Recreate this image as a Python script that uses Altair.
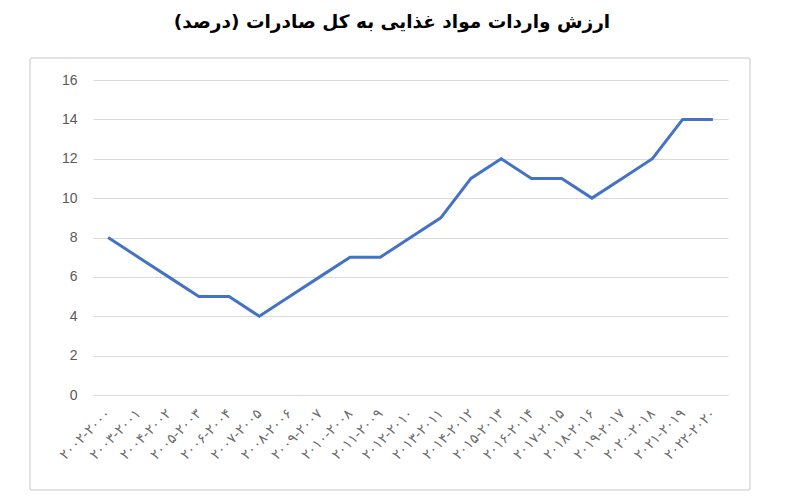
import altair as alt
import pandas as pd

periods = ["۲۰۰۲-۲۰۰۰", "۲۰۰۳-۲۰۰۱", "۲۰۰۴-۲۰۰۲", "۲۰۰۵-۲۰۰۳", "۲۰۰۶-۲۰۰۴",
           "۲۰۰۷-۲۰۰۵", "۲۰۰۸-۲۰۰۶", "۲۰۰۹-۲۰۰۷", "۲۰۱۰-۲۰۰۸", "۲۰۱۱-۲۰۰۹",
           "۲۰۱۲-۲۰۱۰", "۲۰۱۳-۲۰۱۱", "۲۰۱۴-۲۰۱۲", "۲۰۱۵-۲۰۱۳", "۲۰۱۶-۲۰۱۴",
           "۲۰۱۷-۲۰۱۵", "۲۰۱۸-۲۰۱۶", "۲۰۱۹-۲۰۱۷", "۲۰۲۰-۲۰۱۸", "۲۰۲۱-۲۰۱۹",
           "۲۰۲۲-۲۰۲۰"]
values = [8, 7, 6, 5, 5, 4, 5, 6, 7, 7, 8, 9, 11, 12, 11, 11, 10, 11, 12, 14, 14]
y_ticks = [0, 2, 4, 6, 8, 10, 12, 14, 16]
title_text = "ارزش واردات مواد غذایی به کل صادرات (درصد)"

df = pd.DataFrame({"period": periods, "value": values})

line = alt.Chart(df).mark_line(color="#4472C4", strokeWidth=3).encode(
    x=alt.X("period:N", sort=periods, title=None,
            scale=alt.Scale(paddingInner=0, paddingOuter=0),
            axis=alt.Axis(labelAngle=-45, labelAlign="right", labelBaseline="middle",
                          labelFontSize=14, labelColor="#6b6b6b", labelFont="DejaVu Sans",
                          ticks=False, domainColor="#d9d9d9", labelPadding=16,
                          grid=False)),
    y=alt.Y("value:Q", title=None,
            scale=alt.Scale(domain=[0, 16], nice=False),
            axis=alt.Axis(values=y_ticks, labelFontSize=14, labelColor="#595959",
                          labelFont="Liberation Sans", ticks=False, domain=False,
                          gridColor="#d9d9d9", labelPadding=16)),
)

one = pd.DataFrame({"t": [title_text]})

frame = alt.Chart(one).mark_rect(
    fill=None, stroke="#d9d9d9", strokeWidth=1.5, cornerRadius=2
).encode(
    x=alt.value(-63), x2=alt.value(657), y=alt.value(-22), y2=alt.value(410)
)

title = alt.Chart(one).mark_text(
    font="DejaVu Sans", fontSize=18.5, fontWeight="bold", color="#000000",
    align="center", baseline="middle"
).encode(text="t:N", x=alt.value(299), y=alt.value(-58))

chart = alt.layer(frame, line, title).properties(
    width=635, height=315,
    autosize=alt.AutoSizeParams(type="none"),
    padding={"left": 85, "top": 72, "right": 55, "bottom": 96},
).configure_view(stroke=None)

chart.save("out.html", embed_options={"renderer": "svg", "actions": False})
